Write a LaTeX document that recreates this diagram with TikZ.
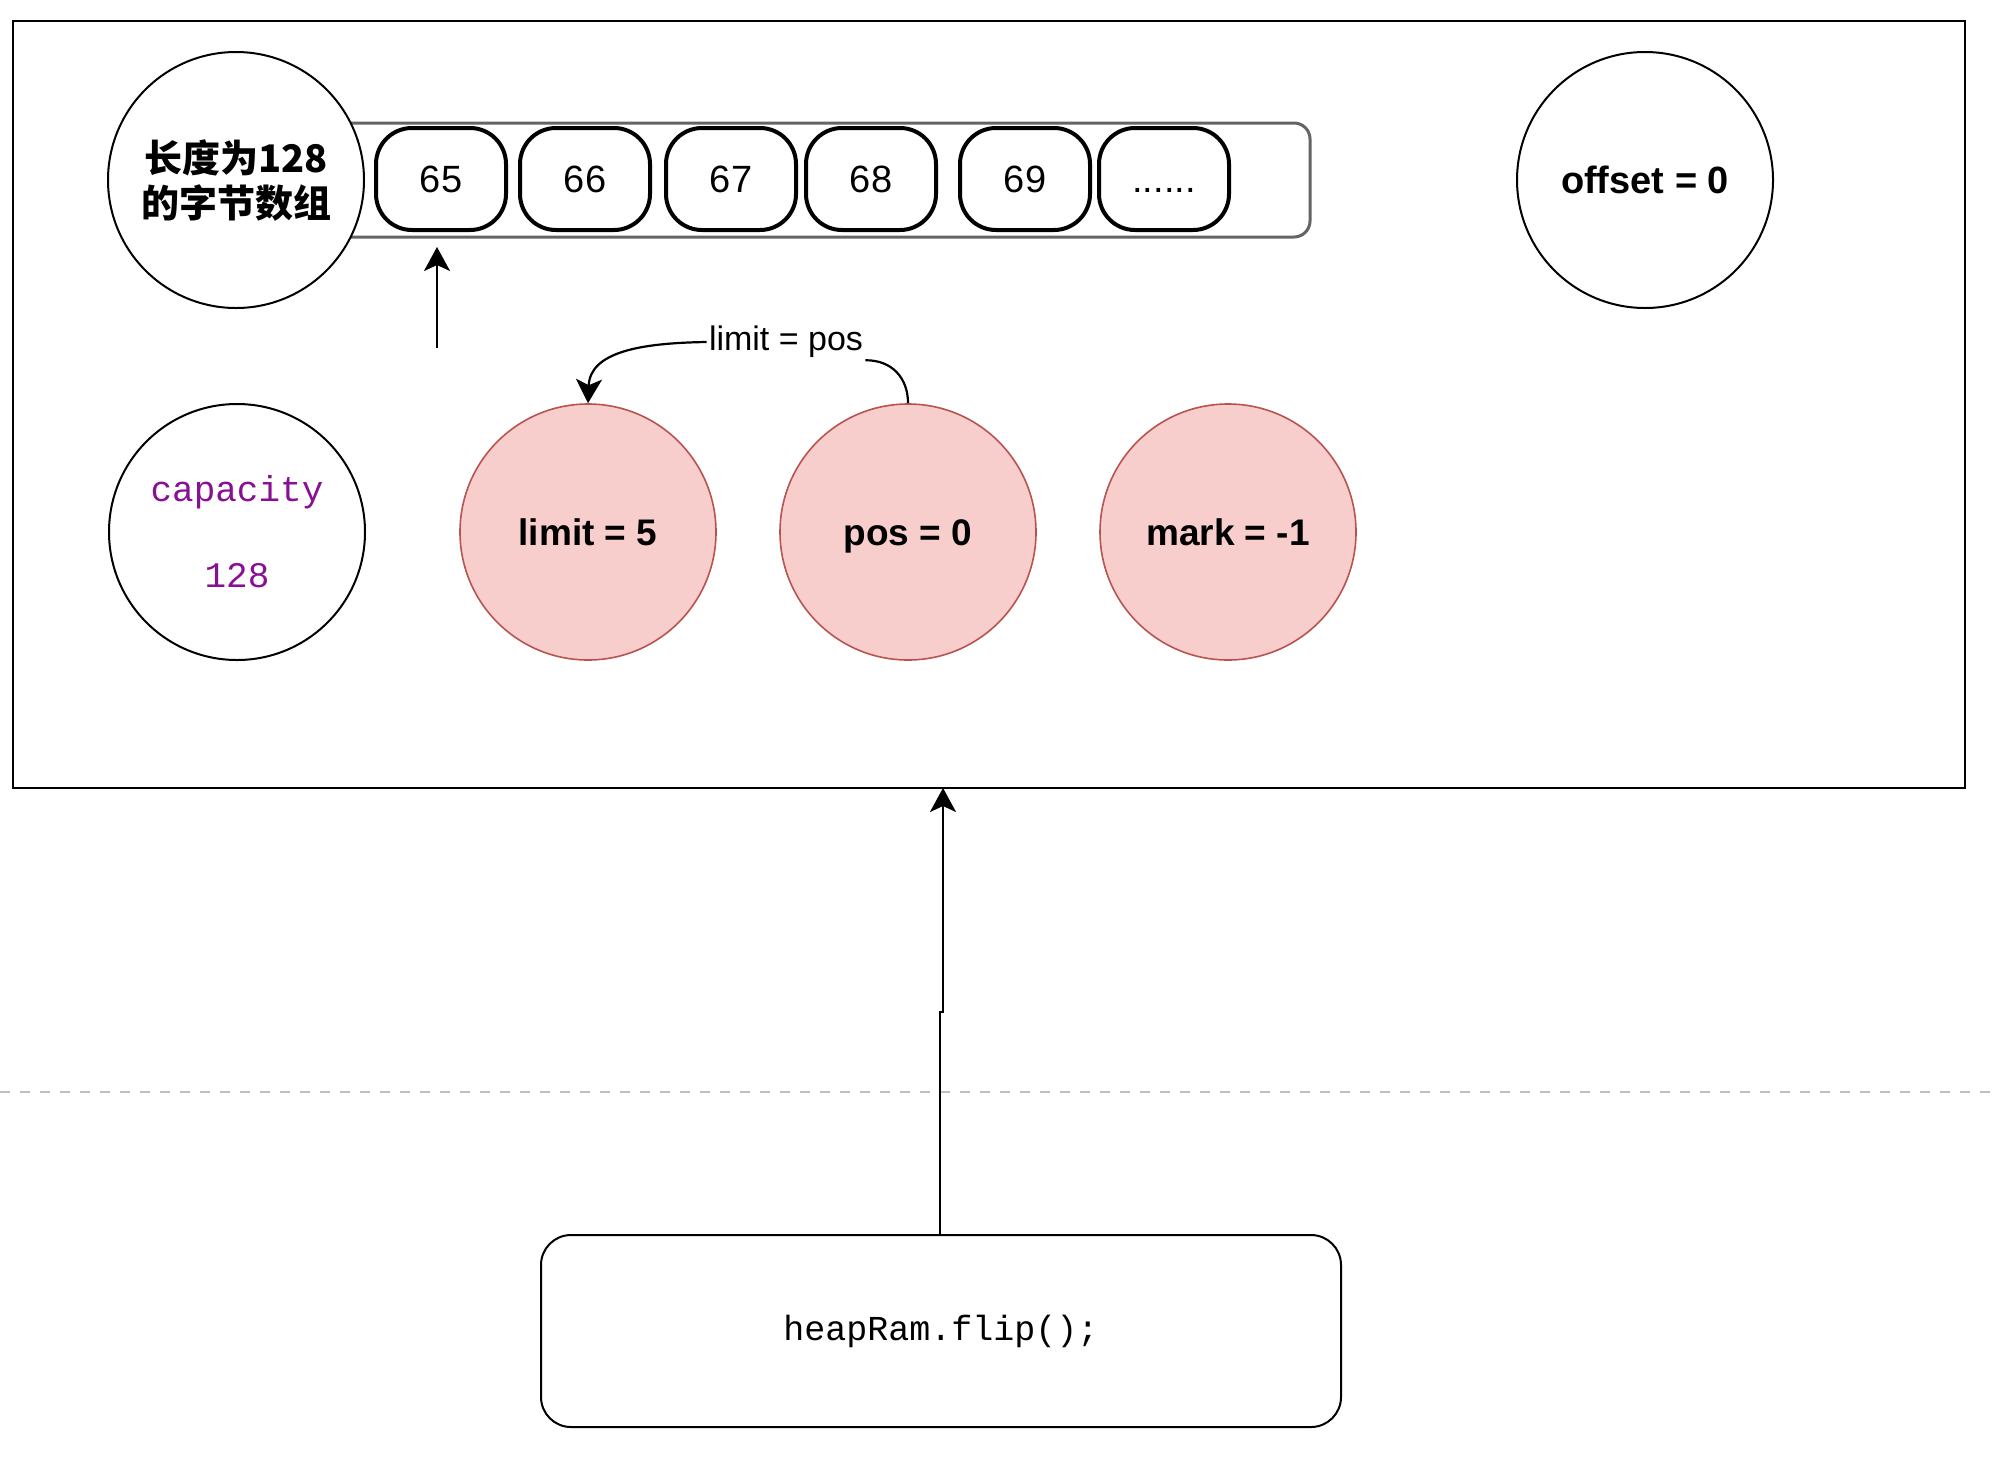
\documentclass[tikz,border=0pt]{standalone}
\usepackage{fontspec}
\setmainfont{Liberation Sans}
\setmonofont{Liberation Mono}
\newfontfamily\cjkfont{Noto Sans CJK SC}
\usetikzlibrary{arrows.meta}
\definecolor{redfill}{RGB}{248,206,204}
\definecolor{redline}{RGB}{184,84,80}
\definecolor{codepurple}{RGB}{135,16,148}
\definecolor{dashgray}{RGB}{190,190,190}
\definecolor{edgegray}{RGB}{100,100,100}
\begin{document}
\begin{tikzpicture}[x=0.5pt,y=-0.5pt,
  bigc/.style={circle,draw=black,line width=1pt,fill=white,minimum size=128pt,inner sep=0pt,align=center},
  redc/.style={circle,draw=redline,line width=0.8pt,fill=redfill,minimum size=128pt,inner sep=0pt,text height=13pt,text depth=0pt,font=\fontsize{18.5}{21}\selectfont\bfseries},
  cellbox/.style={rectangle,rounded corners=18pt,draw=black,line width=2pt,fill=white,minimum width=65pt,minimum height=51pt,inner sep=0pt,font=\fontsize{19}{22}\selectfont},
  arr/.style={-{Stealth[length=12pt,width=13pt,inset=3pt]},line width=1.1pt,draw=black},
  conn/.style={line width=1.1pt,draw=black}
]
\path[use as bounding box] (0,0) rectangle (2000,1462);
% outer frame
\node[draw=black,line width=1.2pt,minimum width=976pt,minimum height=383.5pt,inner sep=0pt,outer sep=0pt] (frame) at (989,404.5) {};
% separator
\draw[dashgray,line width=0.8pt,dash pattern=on 5pt off 5pt] (0,1092) -- (2000,1092);
% byte array container
\node[draw=edgegray,line width=1.5pt,rounded corners=8pt,minimum width=505pt,minimum height=57pt,inner sep=0pt] (arrbox) at (805,180) {};
\node[bigc,font=\cjkfont\bfseries\fontsize{19}{22.5}\selectfont] (bytes) at (236,180) {长度为128\\的字节数组};
% cells
\node[cellbox] (c65) at (441,179) {65};
\node[cellbox] (c66) at (585,179) {66};
\node[cellbox] (c67) at (731,179) {67};
\node[cellbox] (c68) at (871,179) {68};
\node[cellbox] (c69) at (1025,179) {69};
\node[cellbox] (cdots) at (1164,179) {\vphantom{0}......};
% offset
\node[bigc,font=\bfseries\fontsize{19}{22}\selectfont] (offset) at (1645,180) {offset = 0};
% capacity
\node[bigc,font=\ttfamily\fontsize{18}{21}\selectfont,text=codepurple] (cap) at (237,532) {capacity\\[22pt]128};
% red circles
\node[redc] (limit) at (588,532) {limit = 5};
\node[redc] (pos) at (908,532) {pos = 0};
\node[redc] (mark) at (1228,532) {mark = -1};
% limit = pos edge
\node[font=\fontsize{17}{20}\selectfont,inner sep=1pt] (lbl) at (786,342) {limit = pos};
\draw[conn] (pos.north) .. controls (908,378) and (892,360) .. (lbl.south east);
\draw[arr] (lbl.west) .. controls (640,343) and (590,352) .. (limit.north);
% pointer arrow
\coordinate (ptrtail) at (437,348);
\coordinate (ptrhead) at (437,247);
\draw[arr] (ptrtail) -- (ptrhead);
% flip box
\node[draw=black,line width=1pt,rounded corners=15pt,minimum width=400pt,minimum height=96pt,inner sep=0pt,font=\ttfamily\fontsize{17.5}{20}\selectfont] (flip) at (941,1331) {heapRam.flip();};
\coordinate (jogA) at (940,1012);
\coordinate (jogB) at (943,1012);
\draw[arr] (flip.north -| jogA) -- (jogA) -- (jogB) -- (jogB |- frame.south);
\end{tikzpicture}
\end{document}
